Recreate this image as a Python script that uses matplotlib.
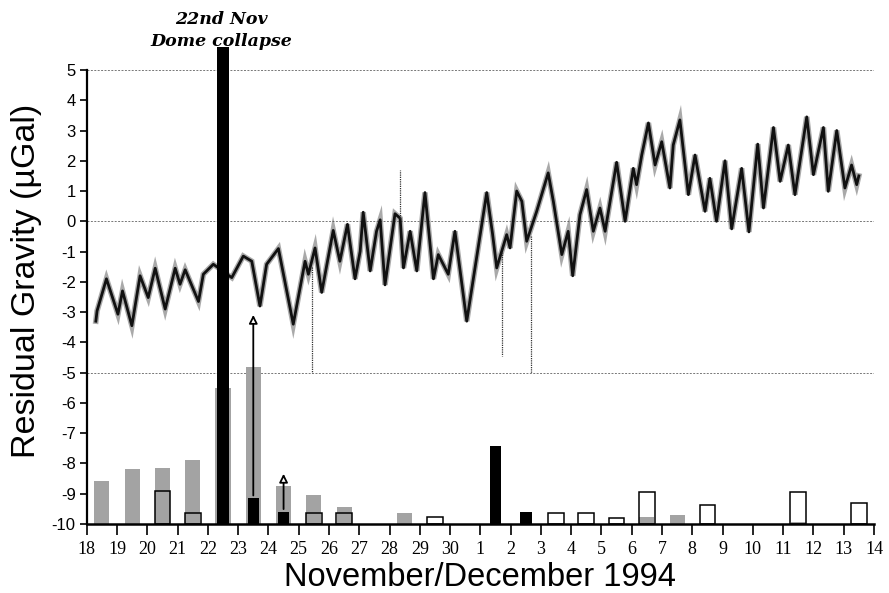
import matplotlib
matplotlib.use("Agg")
import matplotlib.pyplot as plt
import numpy as np

# ---------------- data ----------------
# day index: 0 = 18 Nov 1994, 13 = 1 Dec, 26 = 14 Dec
tick_labels = ["18", "19", "20", "21", "22", "23", "24", "25", "26", "27", "28", "29", "30",
               "1", "2", "3", "4", "5", "6", "7", "8", "9", "10", "11", "12", "13", "14"]

series_days = [0.30, 0.34, 0.65, 1.03, 1.18, 1.49, 1.76, 2.03, 2.26, 2.59, 2.92, 3.08, 3.25,
               3.69, 3.85, 4.18, 4.35, 4.55, 4.79, 5.17, 5.45, 5.72, 5.94, 6.33, 6.82, 7.21,
               7.32, 7.54, 7.76, 8.14, 8.36, 8.61, 8.86, 9.03, 9.13, 9.36, 9.57, 9.69, 9.85,
               10.18, 10.35, 10.46, 10.68, 10.90, 11.17, 11.45, 11.61, 11.94, 12.16, 12.55,
               13.21, 13.40, 13.54, 13.87, 13.98, 14.20, 14.37, 14.53, 14.86, 15.24, 15.41,
               15.69, 15.90, 16.05, 16.29, 16.51, 16.73, 16.95, 17.12, 17.50, 17.78, 18.05,
               18.16, 18.33, 18.55, 18.77, 18.99, 19.26, 19.37, 19.59, 19.87, 20.09, 20.42,
               20.58, 20.80, 21.08, 21.30, 21.63, 21.87, 22.16, 22.35, 22.68, 22.90, 23.17,
               23.39, 23.78, 24.00, 24.33, 24.49, 24.77, 25.04, 25.26, 25.43, 25.50]
series_vals = [-3.3, -2.96, -1.90, -3.07, -2.30, -3.45, -1.80, -2.52, -1.55, -2.90, -1.55,
               -2.08, -1.60, -2.65, -1.75, -1.42, -1.54, -1.70, -1.86, -1.15, -1.32, -2.80,
               -1.42, -0.90, -3.40, -1.32, -1.75, -0.88, -2.35, -0.30, -1.32, -0.10, -1.90,
               -0.99, 0.30, -1.64, -0.33, 0.05, -2.10, 0.25, 0.10, -1.54, -0.33, -1.64, 0.95,
               -1.90, -1.10, -1.75, -0.33, -3.30, 0.95, -0.40, -1.54, -0.44, -0.88, 1.00,
               0.66, -0.66, 0.33, 1.60, 0.66, -1.10, -0.33, -1.80, 0.22, 1.05, -0.33, 0.44,
               -0.33, 1.95, 0.00, 1.75, 1.21, 2.19, 3.25, 1.86, 2.63, 1.10, 2.52, 3.35, 0.88,
               2.19, 0.33, 1.42, 0.00, 2.00, -0.25, 1.75, -0.35, 2.55, 0.44, 3.10, 1.32,
               2.52, 0.88, 3.45, 1.54, 3.10, 0.99, 3.00, 1.10, 1.86, 1.21, 1.50]

# outliers / spikes in the record (day, from, to)
spike_days = [7.43, 10.35, 13.70, 14.68]
spike_from = [-1.5, 0.1, -1.0, -0.5]
spike_to = [-5.0, 1.7, -4.45, -5.0]

# stippled grey bars
grey_days = [0.5, 1.5, 2.5, 3.5, 4.5, 5.5, 6.5, 7.5, 8.5, 10.5, 18.5, 19.5, 23.5]
grey_tops = [-8.59, -8.19, -8.15, -7.90, -5.50, -4.80, -8.74, -9.04, -9.44, -9.64, -9.76,
             -9.70, -9.93]

# open (outlined) bars
open_days = [2.5, 3.5, 7.5, 8.5, 11.5, 15.5, 16.5, 17.5, 18.5, 20.5, 23.5, 25.5]
open_tops = [-8.90, -9.64, -9.64, -9.64, -9.77, -9.65, -9.65, -9.80, -8.93, -9.38, -8.96,
             -9.31]

# black bars
black_days = [4.5, 5.5, 6.5, 13.5, 14.5]
black_tops = [5.75, -9.15, -9.60, -7.42, -9.60]

# arrows rising from black bars (lower bound values)
arrow_days = [5.5, 6.5]
arrow_from = [-9.15, -9.60]
arrow_to = [-3.00, -8.25]

BASE = -10

# ---------------- figure ----------------
fig = plt.figure(figsize=(8.89, 5.93), dpi=100)
ax = fig.add_axes([0.0976, 0.1164, 0.8855, 0.7656])

ax.set_xlim(0, 26)
ax.set_ylim(-10, 5)

# dotted reference lines
for yv in (5, 0, -5):
    ax.plot([0, 26], [yv, yv], color="#777777", lw=0.7, ls=(0, (2, 1.5)), zorder=1)

# gravity record
ax.plot(series_days, series_vals, color="#555555", lw=4.0, alpha=0.5,
        solid_joinstyle="miter", zorder=2)
ax.plot(series_days, series_vals, color="#111111", lw=2.0, zorder=3)
for d, a, b in zip(spike_days, spike_from, spike_to):
    ax.plot([d, d], [a, b], color="#333333", lw=0.9, ls=(0, (1, 0.8)), zorder=3)

# bars
ax.bar(grey_days, np.array(grey_tops) - BASE, bottom=BASE, width=0.5,
       color="#a3a3a3", edgecolor="none", zorder=4)
ax.bar(open_days, np.array(open_tops) - BASE, bottom=BASE, width=0.52,
       facecolor="none", edgecolor="black", lw=1.1, zorder=5)
ax.bar(black_days, np.array(black_tops) - BASE, bottom=BASE, width=0.38,
       color="black", edgecolor="none", zorder=6, clip_on=False)

for d, a, b in zip(arrow_days, arrow_from, arrow_to):
    ax.annotate("", xy=(d, b), xytext=(d, a),
                arrowprops=dict(arrowstyle="-|>,head_length=0.5,head_width=0.25",
                                facecolor="white", edgecolor="black", lw=1.3),
                zorder=7)

# axes styling
for s in ("top", "right"):
    ax.spines[s].set_visible(False)
ax.spines["left"].set_linewidth(1.6)
ax.spines["bottom"].set_linewidth(1.8)
ax.spines["left"].set_zorder(8)
ax.spines["bottom"].set_zorder(8)

ax.set_yticks(np.arange(-10, 6, 1))
ax.set_yticklabels([str(v) for v in range(-10, 6)], fontsize=12, family="Liberation Sans")
ax.set_xticks(np.arange(0, 27, 1))
ax.set_xticklabels(tick_labels, fontsize=13, family="Liberation Serif")
ax.tick_params(axis="y", direction="out", length=5, width=1.2, pad=3)
ax.tick_params(axis="x", direction="out", length=8, width=1.2, pad=4)

ax.set_ylabel("Residual Gravity (µGal)", fontsize=24.5, family="Liberation Sans")
ax.yaxis.set_label_coords(-0.057, 0.535)
ax.set_xlabel("November/December 1994", fontsize=23.5, family="Liberation Sans", labelpad=3)

ax.text(4.45, 1.045, "22nd Nov\nDome collapse", transform=ax.get_xaxis_transform(),
        ha="center", va="bottom", fontsize=12.5, family="DejaVu Serif",
        fontweight="bold", fontstyle="italic", linespacing=1.35)

fig.savefig("out.png", dpi=100)
